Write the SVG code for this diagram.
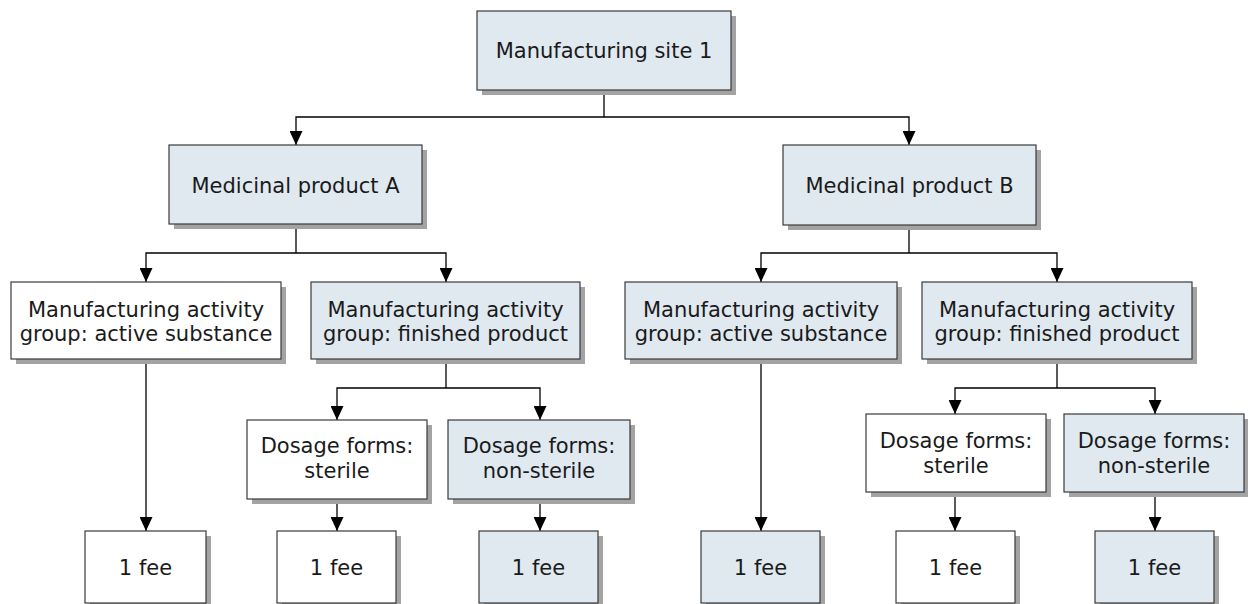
<svg xmlns="http://www.w3.org/2000/svg" width="1248" height="604" viewBox="0 0 1248 604">
<style>
.sh{fill:#a3a3a3}
.bx{stroke:#3a3a3a;stroke-width:1.2}
.blue{fill:#e0e9f0}
.white{fill:#ffffff}
text{font-family:"DejaVu Sans","Liberation Sans",sans-serif;font-size:21px;fill:#1a1a1a;text-anchor:middle}
.cn{fill:none;stroke:#000;stroke-width:1.3;marker-end:url(#ah)}
.ln{fill:none;stroke:#000;stroke-width:1.3}
</style>
<defs>
<marker id="ah" viewBox="0 0 14 13" refX="14" refY="6.5" markerWidth="14" markerHeight="13" markerUnits="userSpaceOnUse" orient="auto">
<path d="M0,0 L14,6.5 L0,13 z" fill="#000"/>
</marker>
</defs>
<rect width="1248" height="604" fill="#fff"/>
<g id="connectors">
<path class="ln" d="M604,90 V117"/>
<path class="cn" d="M604,117 H296 V145"/>
<path class="cn" d="M604,117 H909 V145"/>
<path class="ln" d="M296,224 V253"/>
<path class="cn" d="M296,253 H146 V282"/>
<path class="cn" d="M296,253 H446 V282"/>
<path class="ln" d="M909,225 V253"/>
<path class="cn" d="M909,253 H761 V282"/>
<path class="cn" d="M909,253 H1057 V282"/>
<path class="ln" d="M446,359 V388"/>
<path class="cn" d="M446,388 H337 V420"/>
<path class="cn" d="M446,388 H540 V420"/>
<path class="ln" d="M1057,359 V388"/>
<path class="cn" d="M1057,388 H955 V414"/>
<path class="cn" d="M1057,388 H1155 V414"/>
<path class="cn" d="M146,359 V531"/>
<path class="cn" d="M337,499 V531"/>
<path class="cn" d="M540,499 V531"/>
<path class="cn" d="M761,359 V531"/>
<path class="cn" d="M955,492 V531"/>
<path class="cn" d="M1155,492 V531"/>
</g>
<g id="site">
<rect class="sh" x="482" y="16" width="254" height="79"/>
<rect class="bx blue" x="477" y="11" width="254" height="79"/>
<text x="604" y="58">Manufacturing site 1</text>
</g>
<g id="productA">
<rect class="sh" x="174" y="150" width="253" height="79"/>
<rect class="bx blue" x="169" y="145" width="253" height="79"/>
<text x="295.5" y="192.5">Medicinal product A</text>
</g>
<g id="productB">
<rect class="sh" x="788" y="150" width="253" height="80"/>
<rect class="bx blue" x="783" y="145" width="253" height="80"/>
<text x="909.5" y="193">Medicinal product B</text>
</g>
<g id="activeA">
<rect class="sh" x="16" y="287" width="270" height="77"/>
<rect class="bx white" x="11" y="282" width="270" height="77"/>
<text x="146" y="316.5">Manufacturing activity</text>
<text x="146" y="341">group: active substance</text>
</g>
<g id="finishedA">
<rect class="sh" x="316" y="287" width="269" height="77"/>
<rect class="bx blue" x="311" y="282" width="269" height="77"/>
<text x="445.5" y="316.5">Manufacturing activity</text>
<text x="445.5" y="341">group: finished product</text>
</g>
<g id="activeB">
<rect class="sh" x="630" y="287" width="272" height="77"/>
<rect class="bx blue" x="625" y="282" width="272" height="77"/>
<text x="761" y="316.5">Manufacturing activity</text>
<text x="761" y="341">group: active substance</text>
</g>
<g id="finishedB">
<rect class="sh" x="927" y="287" width="270" height="77"/>
<rect class="bx blue" x="922" y="282" width="270" height="77"/>
<text x="1057" y="316.5">Manufacturing activity</text>
<text x="1057" y="341">group: finished product</text>
</g>
<g id="sterileA">
<rect class="sh" x="252" y="425" width="180" height="79"/>
<rect class="bx white" x="247" y="420" width="180" height="79"/>
<text x="337" y="453">Dosage forms:</text>
<text x="337" y="478">sterile</text>
</g>
<g id="nonsterileA">
<rect class="sh" x="453" y="425" width="182" height="79"/>
<rect class="bx blue" x="448" y="420" width="182" height="79"/>
<text x="539" y="453">Dosage forms:</text>
<text x="539" y="478">non-sterile</text>
</g>
<g id="sterileB">
<rect class="sh" x="871" y="419" width="180" height="78"/>
<rect class="bx white" x="866" y="414" width="180" height="78"/>
<text x="956" y="448">Dosage forms:</text>
<text x="956" y="473">sterile</text>
</g>
<g id="nonsterileB">
<rect class="sh" x="1069" y="419" width="180" height="78"/>
<rect class="bx blue" x="1064" y="414" width="180" height="78"/>
<text x="1154" y="448">Dosage forms:</text>
<text x="1154" y="473">non-sterile</text>
</g>
<g id="feeA1">
<rect class="sh" x="90" y="536" width="121" height="72"/>
<rect class="bx white" x="85" y="531" width="121" height="72"/>
<text x="145.5" y="574.5">1 fee</text>
</g>
<g id="feeA2">
<rect class="sh" x="282" y="536" width="119" height="72"/>
<rect class="bx white" x="277" y="531" width="119" height="72"/>
<text x="336.5" y="574.5">1 fee</text>
</g>
<g id="feeA3">
<rect class="sh" x="484" y="536" width="119" height="72"/>
<rect class="bx blue" x="479" y="531" width="119" height="72"/>
<text x="538.5" y="574.5">1 fee</text>
</g>
<g id="feeB1">
<rect class="sh" x="706" y="536" width="119" height="72"/>
<rect class="bx blue" x="701" y="531" width="119" height="72"/>
<text x="760.5" y="574.5">1 fee</text>
</g>
<g id="feeB2">
<rect class="sh" x="901" y="536" width="119" height="72"/>
<rect class="bx white" x="896" y="531" width="119" height="72"/>
<text x="955.5" y="574.5">1 fee</text>
</g>
<g id="feeB3">
<rect class="sh" x="1100" y="536" width="119" height="72"/>
<rect class="bx blue" x="1095" y="531" width="119" height="72"/>
<text x="1154.5" y="574.5">1 fee</text>
</g>
</svg>
